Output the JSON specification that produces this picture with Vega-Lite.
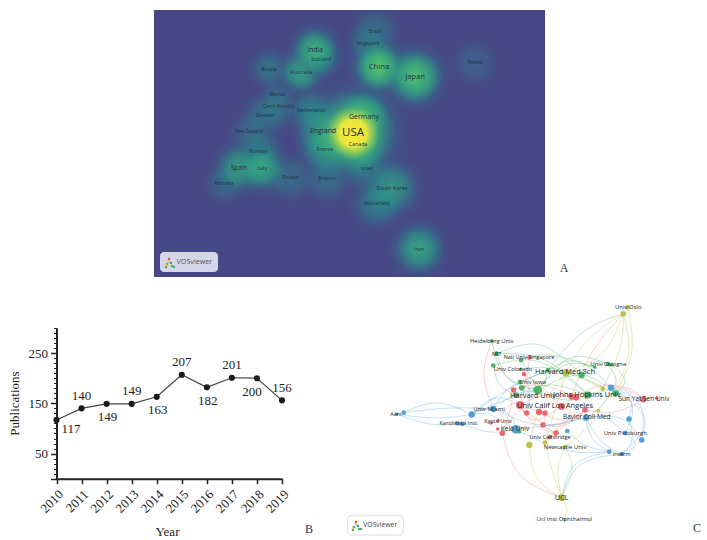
{
"$schema":"https://vega.github.io/schema/vega-lite/v6.json",
"width":707,"height":540,"padding":0,"autosize":{"type":"none"},"background":"white",
"config":{"view":{"stroke":null},"text":{"font":"Open Sans"}},
"datasets":{
"heatBox":[{"x":0,"x2":391,"y":0,"y2":267}],
"heatMask":[{"x":-5,"x2":396,"y":267,"y2":282},{"x":-5,"x2":396,"y":-10,"y2":0}],
"countries":[
{"name":"USA","x":199,"y":123,"w":100,"heat":100,"reach":72},
{"name":"Germany","x":210,"y":107,"w":35,"heat":65,"reach":42},
{"name":"Canada","x":204,"y":134,"w":10,"heat":60,"reach":42},
{"name":"England","x":169,"y":121,"w":35,"heat":55,"reach":40},
{"name":"Netherlands","x":157,"y":101,"w":5,"heat":40,"reach":34},
{"name":"France","x":171,"y":139,"w":10,"heat":50,"reach":38},
{"name":"Sweden","x":111,"y":105,"w":6,"heat":32,"reach":34},
{"name":"Czech Republic","x":125,"y":97,"w":0,"heat":22,"reach":30},
{"name":"Mexico","x":123,"y":85,"w":1,"heat":16,"reach":25},
{"name":"New Zealand","x":95,"y":122,"w":1,"heat":20,"reach":30},
{"name":"Russia","x":115,"y":59,"w":8,"heat":32,"reach":30},
{"name":"Australia","x":147,"y":62,"w":14,"heat":55,"reach":34},
{"name":"India","x":161,"y":40,"w":30,"heat":68,"reach":36},
{"name":"Scotland","x":167,"y":49,"w":6,"heat":40,"reach":30},
{"name":"Brazil","x":221,"y":22,"w":3,"heat":28,"reach":36},
{"name":"Singapore","x":214,"y":34,"w":3,"heat":32,"reach":30},
{"name":"China","x":225,"y":57,"w":45,"heat":88,"reach":42},
{"name":"Japan","x":261,"y":67,"w":42,"heat":80,"reach":46},
{"name":"Poland","x":321,"y":53,"w":1,"heat":18,"reach":36},
{"name":"Norway","x":104,"y":141,"w":8,"heat":42,"reach":36},
{"name":"Spain","x":85,"y":158,"w":25,"heat":55,"reach":36},
{"name":"Italy","x":108,"y":158,"w":8,"heat":58,"reach":36},
{"name":"Romania","x":70,"y":174,"w":1,"heat":22,"reach":30},
{"name":"Finland","x":136,"y":168,"w":1,"heat":26,"reach":36},
{"name":"Belgium","x":173,"y":169,"w":2,"heat":26,"reach":36},
{"name":"Israel","x":213,"y":159,"w":5,"heat":32,"reach":34},
{"name":"South Korea","x":238,"y":178,"w":12,"heat":50,"reach":42},
{"name":"Switzerland","x":223,"y":194,"w":3,"heat":38,"reach":38},
{"name":"Iran","x":265,"y":239,"w":8,"heat":55,"reach":40}
],
"logoBoxes":[{"panel":"A","x":6,"x2":64,"y":242,"y2":262}],
"iconA":[{"t":"red","x":15,"y":249},{"t":"yellow","x":15,"y":251.5},{"t":"blue","x":13,"y":254},{"t":"green","x":12,"y":257},{"t":"yellow","x":12,"y":255},{"t":"blue","x":17,"y":253},{"t":"green","x":18,"y":256},{"t":"green","x":20,"y":257}],
"iconC":[{"t":"red","x":16,"y":222},{"t":"yellow","x":16,"y":224.5},{"t":"blue","x":14,"y":227},{"t":"green","x":13,"y":230},{"t":"yellow","x":13,"y":228},{"t":"blue","x":18,"y":226},{"t":"green","x":19,"y":229},{"t":"green","x":21,"y":229}],
"pubs":[
{"year":2010,"n":117,"side":"belowRight"},
{"year":2011,"n":140,"side":"above"},
{"year":2012,"n":149,"side":"below"},
{"year":2013,"n":149,"side":"above"},
{"year":2014,"n":163,"side":"below"},
{"year":2015,"n":207,"side":"above"},
{"year":2016,"n":182,"side":"below"},
{"year":2017,"n":201,"side":"above"},
{"year":2018,"n":200,"side":"belowLeft"},
{"year":2019,"n":156,"side":"above"}
],
"nodes":[
{"c":"red","x":189.5,"y":57.5,"w":3},{"c":"red","x":184,"y":74,"w":3},{"c":"red","x":173.5,"y":90,"w":4},{"c":"red","x":180,"y":105,"w":8},{"c":"red","x":186.5,"y":113,"w":4},{"c":"red","x":199,"y":112,"w":5},{"c":"red","x":205,"y":113,"w":4},{"c":"red","x":221.5,"y":106.5,"w":6},{"c":"red","x":231.5,"y":96.5,"w":5},{"c":"red","x":236,"y":97.5,"w":5},{"c":"red","x":245,"y":110,"w":4},{"c":"red","x":203,"y":125,"w":4},{"c":"red","x":216,"y":133,"w":4},{"c":"red","x":210,"y":137,"w":3},{"c":"red","x":158,"y":120.7,"w":2},{"c":"red","x":151,"y":123,"w":2},{"c":"red","x":157.7,"y":129,"w":2},{"c":"red","x":162.3,"y":133.3,"w":4},{"c":"red","x":303.3,"y":99.3,"w":5},{"c":"red","x":316.7,"y":98.3,"w":2},
{"c":"green","x":151.7,"y":40.7,"w":2},{"c":"green","x":156.7,"y":53.7,"w":3},{"c":"green","x":153.3,"y":65.5,"w":3},{"c":"green","x":181,"y":60,"w":3},{"c":"green","x":180.7,"y":69.3,"w":2},{"c":"green","x":180,"y":82,"w":3},{"c":"green","x":197.7,"y":90,"w":9},{"c":"green","x":181.7,"y":88,"w":4},{"c":"green","x":176,"y":95,"w":4},{"c":"green","x":208,"y":70,"w":3},{"c":"green","x":241.7,"y":75,"w":5},{"c":"green","x":254.7,"y":67.3,"w":2},{"c":"green","x":268,"y":64,"w":3},{"c":"green","x":271.7,"y":65,"w":2},{"c":"green","x":275.7,"y":93.3,"w":5},{"c":"green","x":247.7,"y":95,"w":6},{"c":"green","x":179.3,"y":132,"w":2},
{"c":"blue","x":153.3,"y":109,"w":5},{"c":"blue","x":131.7,"y":114.5,"w":5},{"c":"blue","x":117.3,"y":123.3,"w":3},{"c":"blue","x":122.3,"y":124,"w":3},{"c":"blue","x":56.7,"y":114,"w":2},{"c":"blue","x":63.7,"y":112.7,"w":3},{"c":"blue","x":175.7,"y":129.3,"w":9},{"c":"blue","x":271,"y":87.7,"w":5},{"c":"blue","x":246,"y":117.7,"w":5},{"c":"blue","x":289,"y":119,"w":4},{"c":"blue","x":285.3,"y":133,"w":3},{"c":"blue","x":301.7,"y":140,"w":4},{"c":"blue","x":269.3,"y":151.7,"w":3},{"c":"blue","x":281.7,"y":154,"w":3},{"c":"blue","x":227.3,"y":131,"w":3},
{"c":"olive","x":287.7,"y":7.3,"w":3},{"c":"olive","x":283.3,"y":13.7,"w":4},{"c":"olive","x":226,"y":72.7,"w":7},{"c":"olive","x":262.7,"y":88.7,"w":3},{"c":"olive","x":258.3,"y":110.7,"w":2},{"c":"olive","x":205,"y":142.7,"w":3},{"c":"olive","x":189.3,"y":145,"w":5},{"c":"olive","x":225,"y":147,"w":3},{"c":"olive","x":221.7,"y":197.7,"w":6},{"c":"olive","x":224.3,"y":219.3,"w":2}
],
"netLabels":[
{"name":"Univ Oslo","x":288.3,"y":7.3,"w":6},
{"name":"Heidelberg Univ","x":151.7,"y":40.7,"w":5.8},
{"name":"MIT","x":156.7,"y":53.7,"w":5.5},
{"name":"Natl Univ Singapore","x":189,"y":57,"w":5.5},
{"name":"Harvard Med Sch","x":225,"y":72,"w":7.5},
{"name":"Univ Cologne","x":268.3,"y":63.7,"w":5.8},
{"name":"Univ Colorado","x":173,"y":68.7,"w":5.8},
{"name":"Univ Iowa","x":192.7,"y":82,"w":5.8},
{"name":"Harvard Univ","x":193,"y":95.7,"w":7.5},
{"name":"Johns Hopkins Univ","x":246.7,"y":95,"w":7.5},
{"name":"Sun Yat Sen Univ","x":304,"y":99.3,"w":6.5},
{"name":"Univ Calif Los Angeles","x":215,"y":106,"w":7.5},
{"name":"Univ Miami","x":149,"y":109,"w":6},
{"name":"Kyoto Univ","x":158,"y":120.7,"w":5.5},
{"name":"Karolinska Inst","x":118.3,"y":123,"w":5.5},
{"name":"Aarc","x":56,"y":114,"w":5.5},
{"name":"Keio Univ","x":175,"y":128.7,"w":6.5},
{"name":"Baylor Coll Med","x":246.7,"y":117,"w":6.5},
{"name":"Univ Pittsburgh","x":285.3,"y":133,"w":6},
{"name":"Inserm","x":281.7,"y":154,"w":5.5},
{"name":"Univ Cambridge","x":210,"y":137,"w":5.5},
{"name":"Newcastle Univ","x":225,"y":147,"w":6},
{"name":"UCL","x":221.7,"y":197.7,"w":7},
{"name":"Ucl Inst Ophthalmol","x":224.3,"y":219.3,"w":6}
],
"tags":[{"tag":"A","x":224,"y":-32.5},{"tag":"B","x":-31,"y":228.7},{"tag":"C","x":357,"y":228}],
"netLogo":[{"x":7.3,"x2":63.3,"y":215.7,"y2":235}],
"edges":[
{"e":1,"c":"olive","s":0,"x":283.3,"y":13.7},{"e":1,"c":"olive","s":1,"x":248,"y":40},{"e":1,"c":"olive","s":2,"x":226,"y":72.7},
{"e":2,"c":"olive","s":0,"x":283.3,"y":13.7},{"e":2,"c":"olive","s":1,"x":263,"y":52},{"e":2,"c":"olive","s":2,"x":226,"y":72.7},
{"e":3,"c":"olive","s":0,"x":287.7,"y":7.3},{"e":3,"c":"olive","s":1,"x":291.7,"y":52},{"e":3,"c":"olive","s":2,"x":275.7,"y":93.3},
{"e":4,"c":"olive","s":0,"x":283.3,"y":13.7},{"e":4,"c":"olive","s":1,"x":280,"y":48},{"e":4,"c":"olive","s":2,"x":262.7,"y":88.7},
{"e":5,"c":"olive","s":0,"x":283.3,"y":13.7},{"e":5,"c":"olive","s":1,"x":287,"y":62},{"e":5,"c":"olive","s":2,"x":258.3,"y":110.7},
{"e":6,"c":"olive","s":0,"x":221.7,"y":197.7},{"e":6,"c":"olive","s":1,"x":232,"y":170},{"e":6,"c":"olive","s":2,"x":225,"y":147},
{"e":7,"c":"olive","s":0,"x":221.7,"y":197.7},{"e":7,"c":"olive","s":1,"x":218,"y":170},{"e":7,"c":"olive","s":2,"x":225,"y":147},
{"e":8,"c":"olive","s":0,"x":221.7,"y":197.7},{"e":8,"c":"olive","s":1,"x":212,"y":170},{"e":8,"c":"olive","s":2,"x":205,"y":142.7},
{"e":9,"c":"olive","s":0,"x":221.7,"y":197.7},{"e":9,"c":"olive","s":1,"x":197,"y":178},{"e":9,"c":"olive","s":2,"x":189.3,"y":145},
{"e":10,"c":"olive","s":0,"x":221.7,"y":197.7},{"e":10,"c":"olive","s":1,"x":227,"y":208},{"e":10,"c":"olive","s":2,"x":224.3,"y":219.3},
{"e":11,"c":"olive","s":0,"x":226,"y":72.7},{"e":11,"c":"olive","s":1,"x":215,"y":110},{"e":11,"c":"olive","s":2,"x":205,"y":142.7},
{"e":12,"c":"olive","s":0,"x":226,"y":72.7},{"e":12,"c":"olive","s":1,"x":200,"y":110},{"e":12,"c":"olive","s":2,"x":189.3,"y":145},
{"e":13,"c":"olive","s":0,"x":225,"y":147},{"e":13,"c":"olive","s":1,"x":250,"y":125},{"e":13,"c":"olive","s":2,"x":258.3,"y":110.7},
{"e":14,"c":"olive","s":0,"x":205,"y":142.7},{"e":14,"c":"olive","s":1,"x":235,"y":110},{"e":14,"c":"olive","s":2,"x":262.7,"y":88.7},
{"e":15,"c":"olive","s":0,"x":226,"y":72.7},{"e":15,"c":"olive","s":1,"x":245,"y":80},{"e":15,"c":"olive","s":2,"x":262.7,"y":88.7},
{"e":16,"c":"green","s":0,"x":283.3,"y":13.7},{"e":16,"c":"green","s":1,"x":243,"y":32},{"e":16,"c":"green","s":2,"x":208,"y":70},
{"e":17,"c":"green","s":0,"x":151.7,"y":40.7},{"e":17,"c":"green","s":1,"x":165,"y":75},{"e":17,"c":"green","s":2,"x":197.7,"y":90},
{"e":18,"c":"green","s":0,"x":156.7,"y":53.7},{"e":18,"c":"green","s":1,"x":200,"y":45},{"e":18,"c":"green","s":2,"x":241.7,"y":75},
{"e":19,"c":"green","s":0,"x":156.7,"y":53.7},{"e":19,"c":"green","s":1,"x":170,"y":80},{"e":19,"c":"green","s":2,"x":197.7,"y":90},
{"e":20,"c":"green","s":0,"x":156.7,"y":53.7},{"e":20,"c":"green","s":1,"x":205,"y":60},{"e":20,"c":"green","s":2,"x":247.7,"y":95},
{"e":21,"c":"green","s":0,"x":153.3,"y":65.5},{"e":21,"c":"green","s":1,"x":160,"y":85},{"e":21,"c":"green","s":2,"x":176,"y":95},
{"e":22,"c":"green","s":0,"x":153.3,"y":65.5},{"e":22,"c":"green","s":1,"x":200,"y":62},{"e":22,"c":"green","s":2,"x":247.7,"y":95},
{"e":23,"c":"green","s":0,"x":268,"y":64},{"e":23,"c":"green","s":1,"x":230,"y":58},{"e":23,"c":"green","s":2,"x":197.7,"y":90},
{"e":24,"c":"green","s":0,"x":268,"y":64},{"e":24,"c":"green","s":1,"x":255,"y":62},{"e":24,"c":"green","s":2,"x":241.7,"y":75},
{"e":25,"c":"green","s":0,"x":254.7,"y":67.3},{"e":25,"c":"green","s":1,"x":225,"y":65},{"e":25,"c":"green","s":2,"x":197.7,"y":90},
{"e":26,"c":"green","s":0,"x":275.7,"y":93.3},{"e":26,"c":"green","s":1,"x":240,"y":75},{"e":26,"c":"green","s":2,"x":197.7,"y":90},
{"e":27,"c":"green","s":0,"x":275.7,"y":93.3},{"e":27,"c":"green","s":1,"x":240,"y":62},{"e":27,"c":"green","s":2,"x":208,"y":70},
{"e":28,"c":"green","s":0,"x":271.7,"y":65},{"e":28,"c":"green","s":1,"x":285,"y":80},{"e":28,"c":"green","s":2,"x":275.7,"y":93.3},
{"e":29,"c":"green","s":0,"x":268,"y":64},{"e":29,"c":"green","s":1,"x":275,"y":85},{"e":29,"c":"green","s":2,"x":247.7,"y":95},
{"e":30,"c":"green","s":0,"x":181,"y":60},{"e":30,"c":"green","s":1,"x":210,"y":55},{"e":30,"c":"green","s":2,"x":254.7,"y":67.3},
{"e":31,"c":"green","s":0,"x":180.7,"y":69.3},{"e":31,"c":"green","s":1,"x":220,"y":70},{"e":31,"c":"green","s":2,"x":275.7,"y":93.3},
{"e":32,"c":"green","s":0,"x":180,"y":82},{"e":32,"c":"green","s":1,"x":210,"y":72},{"e":32,"c":"green","s":2,"x":241.7,"y":75},
{"e":33,"c":"green","s":0,"x":181,"y":60},{"e":33,"c":"green","s":1,"x":190,"y":75},{"e":33,"c":"green","s":2,"x":197.7,"y":90},
{"e":34,"c":"green","s":0,"x":197.7,"y":90},{"e":34,"c":"green","s":1,"x":225,"y":100},{"e":34,"c":"green","s":2,"x":247.7,"y":95},
{"e":35,"c":"green","s":0,"x":176,"y":95},{"e":35,"c":"green","s":1,"x":210,"y":85},{"e":35,"c":"green","s":2,"x":247.7,"y":95},
{"e":36,"c":"green","s":0,"x":208,"y":70},{"e":36,"c":"green","s":1,"x":205,"y":80},{"e":36,"c":"green","s":2,"x":197.7,"y":90},
{"e":37,"c":"red","s":0,"x":151.7,"y":40.7},{"e":37,"c":"red","s":1,"x":144,"y":75},{"e":37,"c":"red","s":2,"x":153.3,"y":109},
{"e":38,"c":"red","s":0,"x":283.3,"y":13.7},{"e":38,"c":"red","s":1,"x":252,"y":52},{"e":38,"c":"red","s":2,"x":231.5,"y":96.5},
{"e":39,"c":"red","s":0,"x":303.3,"y":99.3},{"e":39,"c":"red","s":1,"x":288,"y":88},{"e":39,"c":"red","s":2,"x":271,"y":87.7},
{"e":40,"c":"red","s":0,"x":303.3,"y":99.3},{"e":40,"c":"red","s":1,"x":275,"y":112},{"e":40,"c":"red","s":2,"x":245,"y":110},
{"e":41,"c":"red","s":0,"x":303.3,"y":99.3},{"e":41,"c":"red","s":1,"x":265,"y":85},{"e":41,"c":"red","s":2,"x":221.5,"y":106.5},
{"e":42,"c":"red","s":0,"x":316.7,"y":98.3},{"e":42,"c":"red","s":1,"x":310,"y":97},{"e":42,"c":"red","s":2,"x":303.3,"y":99.3},
{"e":43,"c":"red","s":0,"x":162.3,"y":133.3},{"e":43,"c":"red","s":1,"x":180,"y":175},{"e":43,"c":"red","s":2,"x":221.7,"y":197.7},
{"e":44,"c":"red","s":0,"x":180,"y":105},{"e":44,"c":"red","s":1,"x":205,"y":95},{"e":44,"c":"red","s":2,"x":231.5,"y":96.5},
{"e":45,"c":"red","s":0,"x":180,"y":105},{"e":45,"c":"red","s":1,"x":195,"y":120},{"e":45,"c":"red","s":2,"x":221.5,"y":106.5},
{"e":46,"c":"red","s":0,"x":173.5,"y":90},{"e":46,"c":"red","s":1,"x":200,"y":85},{"e":46,"c":"red","s":2,"x":236,"y":97.5},
{"e":47,"c":"red","s":0,"x":184,"y":74},{"e":47,"c":"red","s":1,"x":190,"y":95},{"e":47,"c":"red","s":2,"x":186.5,"y":113},
{"e":48,"c":"red","s":0,"x":184,"y":74},{"e":48,"c":"red","s":1,"x":205,"y":90},{"e":48,"c":"red","s":2,"x":221.5,"y":106.5},
{"e":49,"c":"red","s":0,"x":189.5,"y":57.5},{"e":49,"c":"red","s":1,"x":185,"y":85},{"e":49,"c":"red","s":2,"x":180,"y":105},
{"e":50,"c":"red","s":0,"x":162.3,"y":133.3},{"e":50,"c":"red","s":1,"x":180,"y":110},{"e":50,"c":"red","s":2,"x":199,"y":112},
{"e":51,"c":"red","s":0,"x":186.5,"y":113},{"e":51,"c":"red","s":1,"x":215,"y":125},{"e":51,"c":"red","s":2,"x":245,"y":110},
{"e":52,"c":"red","s":0,"x":199,"y":112},{"e":52,"c":"red","s":1,"x":225,"y":120},{"e":52,"c":"red","s":2,"x":245,"y":110},
{"e":53,"c":"red","s":0,"x":205,"y":113},{"e":53,"c":"red","s":1,"x":205,"y":120},{"e":53,"c":"red","s":2,"x":203,"y":125},
{"e":54,"c":"red","s":0,"x":203,"y":125},{"e":54,"c":"red","s":1,"x":210,"y":130},{"e":54,"c":"red","s":2,"x":216,"y":133},
{"e":55,"c":"red","s":0,"x":180,"y":105},{"e":55,"c":"red","s":1,"x":195,"y":125},{"e":55,"c":"red","s":2,"x":216,"y":133},
{"e":56,"c":"red","s":0,"x":221.5,"y":106.5},{"e":56,"c":"red","s":1,"x":230,"y":115},{"e":56,"c":"red","s":2,"x":216,"y":133},
{"e":57,"c":"red","s":0,"x":173.5,"y":90},{"e":57,"c":"red","s":1,"x":170,"y":110},{"e":57,"c":"red","s":2,"x":162.3,"y":133.3},
{"e":58,"c":"red","s":0,"x":158,"y":120.7},{"e":58,"c":"red","s":1,"x":170,"y":105},{"e":58,"c":"red","s":2,"x":180,"y":105},
{"e":59,"c":"red","s":0,"x":199,"y":112},{"e":59,"c":"red","s":1,"x":218,"y":98},{"e":59,"c":"red","s":2,"x":231.5,"y":96.5},
{"e":60,"c":"red","s":0,"x":203,"y":125},{"e":60,"c":"red","s":1,"x":225,"y":125},{"e":60,"c":"red","s":2,"x":245,"y":110},
{"e":61,"c":"blue","s":0,"x":63.7,"y":112.7},{"e":61,"c":"blue","s":1,"x":97,"y":103},{"e":61,"c":"blue","s":2,"x":131.7,"y":114.5},
{"e":62,"c":"blue","s":0,"x":56.7,"y":114},{"e":62,"c":"blue","s":1,"x":95,"y":118},{"e":62,"c":"blue","s":2,"x":131.7,"y":114.5},
{"e":63,"c":"blue","s":0,"x":56.7,"y":114},{"e":63,"c":"blue","s":1,"x":90,"y":124},{"e":63,"c":"blue","s":2,"x":122.3,"y":124},
{"e":64,"c":"blue","s":0,"x":63.7,"y":112.7},{"e":64,"c":"blue","s":1,"x":110,"y":108},{"e":64,"c":"blue","s":2,"x":153.3,"y":109},
{"e":65,"c":"blue","s":0,"x":122.3,"y":124},{"e":65,"c":"blue","s":1,"x":150,"y":132},{"e":65,"c":"blue","s":2,"x":175.7,"y":129.3},
{"e":66,"c":"blue","s":0,"x":131.7,"y":114.5},{"e":66,"c":"blue","s":1,"x":150,"y":115},{"e":66,"c":"blue","s":2,"x":175.7,"y":129.3},
{"e":67,"c":"blue","s":0,"x":122.3,"y":124},{"e":67,"c":"blue","s":1,"x":135,"y":112},{"e":67,"c":"blue","s":2,"x":153.3,"y":109},
{"e":68,"c":"blue","s":0,"x":153.3,"y":109},{"e":68,"c":"blue","s":1,"x":175,"y":95},{"e":68,"c":"blue","s":2,"x":197.7,"y":90},
{"e":69,"c":"blue","s":0,"x":153.3,"y":109},{"e":69,"c":"blue","s":1,"x":165,"y":92},{"e":69,"c":"blue","s":2,"x":180,"y":82},
{"e":70,"c":"blue","s":0,"x":131.7,"y":114.5},{"e":70,"c":"blue","s":1,"x":170,"y":88},{"e":70,"c":"blue","s":2,"x":208,"y":70},
{"e":71,"c":"blue","s":0,"x":131.7,"y":114.5},{"e":71,"c":"blue","s":1,"x":155,"y":98},{"e":71,"c":"blue","s":2,"x":180,"y":105},
{"e":72,"c":"blue","s":0,"x":131.7,"y":114.5},{"e":72,"c":"blue","s":1,"x":165,"y":100},{"e":72,"c":"blue","s":2,"x":197.7,"y":90},
{"e":73,"c":"blue","s":0,"x":246,"y":117.7},{"e":73,"c":"blue","s":1,"x":252,"y":138},{"e":73,"c":"blue","s":2,"x":269.3,"y":151.7},
{"e":74,"c":"blue","s":0,"x":246,"y":117.7},{"e":74,"c":"blue","s":1,"x":262,"y":142},{"e":74,"c":"blue","s":2,"x":281.7,"y":154},
{"e":75,"c":"blue","s":0,"x":289,"y":119},{"e":75,"c":"blue","s":1,"x":292,"y":140},{"e":75,"c":"blue","s":2,"x":281.7,"y":154},
{"e":76,"c":"blue","s":0,"x":271,"y":87.7},{"e":76,"c":"blue","s":1,"x":290,"y":95},{"e":76,"c":"blue","s":2,"x":289,"y":119},
{"e":77,"c":"blue","s":0,"x":271,"y":87.7},{"e":77,"c":"blue","s":1,"x":292,"y":105},{"e":77,"c":"blue","s":2,"x":285.3,"y":133},
{"e":78,"c":"blue","s":0,"x":271,"y":87.7},{"e":78,"c":"blue","s":1,"x":262,"y":105},{"e":78,"c":"blue","s":2,"x":246,"y":117.7},
{"e":79,"c":"blue","s":0,"x":285.3,"y":133},{"e":79,"c":"blue","s":1,"x":265,"y":118},{"e":79,"c":"blue","s":2,"x":246,"y":117.7},
{"e":80,"c":"blue","s":0,"x":301.7,"y":140},{"e":80,"c":"blue","s":1,"x":280,"y":118},{"e":80,"c":"blue","s":2,"x":246,"y":117.7},
{"e":81,"c":"blue","s":0,"x":271,"y":87.7},{"e":81,"c":"blue","s":1,"x":300,"y":105},{"e":81,"c":"blue","s":2,"x":301.7,"y":140},
{"e":82,"c":"blue","s":0,"x":269.3,"y":151.7},{"e":82,"c":"blue","s":1,"x":225,"y":150},{"e":82,"c":"blue","s":2,"x":175.7,"y":129.3},
{"e":83,"c":"blue","s":0,"x":281.7,"y":154},{"e":83,"c":"blue","s":1,"x":295,"y":145},{"e":83,"c":"blue","s":2,"x":285.3,"y":133},
{"e":84,"c":"blue","s":0,"x":281.7,"y":154},{"e":84,"c":"blue","s":1,"x":305,"y":120},{"e":84,"c":"blue","s":2,"x":271,"y":87.7},
{"e":85,"c":"blue","s":0,"x":227.3,"y":131},{"e":85,"c":"blue","s":1,"x":245,"y":145},{"e":85,"c":"blue","s":2,"x":269.3,"y":151.7},
{"e":86,"c":"blue","s":0,"x":221.7,"y":197.7},{"e":86,"c":"blue","s":1,"x":235,"y":165},{"e":86,"c":"blue","s":2,"x":269.3,"y":151.7},
{"e":87,"c":"blue","s":0,"x":221.7,"y":197.7},{"e":87,"c":"blue","s":1,"x":240,"y":165},{"e":87,"c":"blue","s":2,"x":281.7,"y":154},
{"e":88,"c":"blue","s":0,"x":153.3,"y":109},{"e":88,"c":"blue","s":1,"x":200,"y":125},{"e":88,"c":"blue","s":2,"x":246,"y":117.7},
{"e":89,"c":"blue","s":0,"x":175.7,"y":129.3},{"e":89,"c":"blue","s":1,"x":210,"y":125},{"e":89,"c":"blue","s":2,"x":246,"y":117.7},
{"e":90,"c":"blue","s":0,"x":153.3,"y":109},{"e":90,"c":"blue","s":1,"x":170,"y":115},{"e":90,"c":"blue","s":2,"x":175.7,"y":129.3}
]
},
"layer":[
{"data":{"name":"heatBox"},"mark":{"type":"rect","color":"#474986"},
 "encoding":{"x":{"field":"x","type":"quantitative","scale":{"domain":[0,391],"range":[154,545]},"axis":null},"x2":{"field":"x2"},"y":{"field":"y","type":"quantitative","scale":{"domain":[0,267],"range":[10,277]},"axis":null},"y2":{"field":"y2"}}},
{"data":{"name":"countries"},"mark":{"type":"point","shape":"circle","filled":true,"stroke":null,"color":{"gradient":"radial","x1":0.5,"y1":0.5,"x2":0.5,"y2":0.5,"r1":0,"r2":0.5,"stops":[{"offset":0,"color":"rgba(38,155,140,1)"},{"offset":0.4,"color":"rgba(40,145,138,0.75)"},{"offset":0.72,"color":"rgba(50,108,135,0.28)"},{"offset":1,"color":"rgba(71,73,134,0)"}]}},
 "encoding":{"x":{"field":"x","type":"quantitative","scale":{"domain":[0,391],"range":[154,545]},"axis":null},"y":{"field":"y","type":"quantitative","scale":{"domain":[0,267],"range":[10,277]},"axis":null},
 "size":{"field":"reach","type":"quantitative","scale":{"type":"pow","exponent":2,"domain":[0,100],"range":[0,31416]},"legend":null},
 "opacity":{"field":"heat","type":"quantitative","scale":{"domain":[0,60],"range":[0,1],"clamp":true},"legend":null}}},
{"data":{"name":"countries"},"transform":[{"filter":"datum.heat>=45"}],"mark":{"type":"point","shape":"circle","filled":true,"stroke":null,"color":{"gradient":"radial","x1":0.5,"y1":0.5,"x2":0.5,"y2":0.5,"r1":0,"r2":0.5,"stops":[{"offset":0,"color":"rgba(95,208,100,1)"},{"offset":0.5,"color":"rgba(70,185,115,0.7)"},{"offset":1,"color":"rgba(40,150,135,0)"}]}},
 "encoding":{"x":{"field":"x","type":"quantitative","scale":{"domain":[0,391],"range":[154,545]},"axis":null},"y":{"field":"y","type":"quantitative","scale":{"domain":[0,267],"range":[10,277]},"axis":null},
 "size":{"field":"reach","type":"quantitative","scale":{"type":"pow","exponent":2,"domain":[0,100],"range":[0,14000]},"legend":null},
 "opacity":{"field":"heat","type":"quantitative","scale":{"domain":[40,95],"range":[0,1],"clamp":true},"legend":null}}},
{"data":{"name":"countries"},"transform":[{"filter":"datum.heat==100"}],"mark":{"type":"point","shape":"circle","filled":true,"stroke":null,"opacity":1,"color":{"gradient":"radial","x1":0.5,"y1":0.5,"x2":0.5,"y2":0.5,"r1":0,"r2":0.5,"stops":[{"offset":0,"color":"rgba(250,235,50,1)"},{"offset":0.5,"color":"rgba(240,232,60,0.95)"},{"offset":1,"color":"rgba(130,205,90,0)"}]}},
 "encoding":{"x":{"field":"x","type":"quantitative","scale":{"domain":[0,391],"range":[154,545]},"axis":null},"y":{"field":"y","type":"quantitative","scale":{"domain":[0,267],"range":[10,277]},"axis":null},
 "size":{"field":"heat","type":"quantitative","scale":{"domain":[0,100],"range":[0,3000]},"legend":null}}},
{"data":{"name":"heatMask"},"mark":{"type":"rect","color":"white"},
 "encoding":{"x":{"field":"x","type":"quantitative","scale":{"domain":[0,391],"range":[154,545]},"axis":null},"x2":{"field":"x2"},"y":{"field":"y","type":"quantitative","scale":{"domain":[0,267],"range":[10,277]},"axis":null},"y2":{"field":"y2"}}},
{"data":{"name":"countries"},"mark":{"type":"text","font":"Open Sans","color":"#1f2d4a","align":"center","baseline":"middle"},
 "encoding":{"x":{"field":"x","type":"quantitative","scale":{"domain":[0,391],"range":[154,545]},"axis":null},"y":{"field":"y","type":"quantitative","scale":{"domain":[0,267],"range":[10,277]},"axis":null},"text":{"field":"name"},
 "size":{"field":"w","type":"quantitative","scale":{"domain":[0,100],"range":[4.6,11.5]},"legend":null}}},
{"data":{"name":"logoBoxes"},"mark":{"type":"rect","color":"#d5d6e7","cornerRadius":4},
 "encoding":{"x":{"field":"x","type":"quantitative","scale":{"domain":[0,391],"range":[154,545]},"axis":null},"x2":{"field":"x2"},"y":{"field":"y","type":"quantitative","scale":{"domain":[0,267],"range":[10,277]},"axis":null},"y2":{"field":"y2"}}},
{"data":{"name":"iconA"},"mark":{"type":"circle","opacity":1},
 "encoding":{"x":{"field":"x","type":"quantitative","scale":{"domain":[0,391],"range":[154,545]},"axis":null},"y":{"field":"y","type":"quantitative","scale":{"domain":[0,267],"range":[10,277]},"axis":null},"size":{"value":7},
 "color":{"field":"t","type":"nominal","scale":{"domain":["red","yellow","green","blue"],"range":["#d9534f","#d8cf3c","#4fb26a","#4a8fd0"]},"legend":null}}},
{"data":{"values":[{"label":"VOSviewer","x":22.5,"y":252}]},"mark":{"type":"text","font":"Open Sans","fontSize":7.2,"color":"#555566","align":"left","baseline":"middle"},
 "encoding":{"x":{"field":"x","type":"quantitative","scale":{"domain":[0,391],"range":[154,545]},"axis":null},"y":{"field":"y","type":"quantitative","scale":{"domain":[0,267],"range":[10,277]},"axis":null},"text":{"field":"label"}}},

{"data":{"name":"pubs"},"mark":{"type":"line","color":"#444444","strokeWidth":1.2},
 "encoding":{"x":{"field":"year","type":"quantitative","scale":{"domain":[2010,2019],"range":[56.5,282]},
   "axis":{"orient":"bottom","offset":-61.3,"values":[2010,2011,2012,2013,2014,2015,2016,2017,2018,2019],"format":"d","grid":false,"domainColor":"#222222","domainWidth":2,"tickColor":"#222222","tickWidth":1.5,"tickSize":5,"labelFont":"Liberation Serif","labelFontSize":13,"labelColor":"#222222","labelAngle":-45,"labelAlign":"right","labelBaseline":"top","labelPadding":4,"labelFlush":false,"labelOverlap":false,"title":"Year","titleFont":"Liberation Serif","titleFontSize":13,"titleFontWeight":"normal","titleColor":"#222222","titleX":167,"titleY":47}},
  "y":{"field":"n","type":"quantitative","scale":{"domain":[0,300],"range":[478.7,328]},
   "axis":{"orient":"left","offset":-56.5,"values":[0,50,150,250],"labelExpr":"datum.value==0?'':datum.label","grid":false,"domainColor":"#222222","domainWidth":2,"tickColor":"#222222","tickWidth":1.5,"tickSize":6,"labelFont":"Liberation Serif","labelFontSize":13,"labelColor":"#222222","labelPadding":3,"title":"Publications","titleFont":"Liberation Serif","titleFontSize":13,"titleFontWeight":"normal","titleColor":"#222222","titleX":-35,"titleY":403}}}},
{"data":{"name":"pubs"},"mark":{"type":"circle","color":"#1a1a1a","opacity":1,"size":38},
 "encoding":{"x":{"field":"year","type":"quantitative","scale":{"domain":[2010,2019],"range":[56.5,282]},"axis":null},
  "y":{"field":"n","type":"quantitative","scale":{"domain":[0,300],"range":[478.7,328]},
   "axis":{"orient":"left","offset":-56.5,"values":[10,20,30,40,60,70,80,90,100,110,120,130,140,160,170,180,190,200,210,220,230,240,260,270,280,290,300],"grid":false,"domain":false,"labels":false,"title":null,"tickColor":"#222222","tickWidth":1,"tickSize":3}}}},
{"data":{"name":"pubs"},"transform":[{"filter":"datum.side=='above'"}],"mark":{"type":"text","font":"Liberation Serif","fontSize":13,"color":"#222222","dy":-12.5},
 "encoding":{"x":{"field":"year","type":"quantitative","scale":{"domain":[2010,2019],"range":[56.5,282]},"axis":null},"y":{"field":"n","type":"quantitative","scale":{"domain":[0,300],"range":[478.7,328]},"axis":null},"text":{"field":"n"}}},
{"data":{"name":"pubs"},"transform":[{"filter":"datum.side=='below'"}],"mark":{"type":"text","font":"Liberation Serif","fontSize":13,"color":"#222222","dy":13.5,"dx":1},
 "encoding":{"x":{"field":"year","type":"quantitative","scale":{"domain":[2010,2019],"range":[56.5,282]},"axis":null},"y":{"field":"n","type":"quantitative","scale":{"domain":[0,300],"range":[478.7,328]},"axis":null},"text":{"field":"n"}}},
{"data":{"name":"pubs"},"transform":[{"filter":"datum.side=='belowRight'"}],"mark":{"type":"text","font":"Liberation Serif","fontSize":13,"color":"#222222","dy":9,"dx":14.5},
 "encoding":{"x":{"field":"year","type":"quantitative","scale":{"domain":[2010,2019],"range":[56.5,282]},"axis":null},"y":{"field":"n","type":"quantitative","scale":{"domain":[0,300],"range":[478.7,328]},"axis":null},"text":{"field":"n"}}},
{"data":{"name":"pubs"},"transform":[{"filter":"datum.side=='belowLeft'"}],"mark":{"type":"text","font":"Liberation Serif","fontSize":13,"color":"#222222","dy":14,"dx":-5},
 "encoding":{"x":{"field":"year","type":"quantitative","scale":{"domain":[2010,2019],"range":[56.5,282]},"axis":null},"y":{"field":"n","type":"quantitative","scale":{"domain":[0,300],"range":[478.7,328]},"axis":null},"text":{"field":"n"}}},

{"data":{"name":"edges"},"mark":{"type":"line","interpolate":"natural","strokeWidth":0.8,"opacity":0.5},
 "encoding":{"x":{"field":"x","type":"quantitative","scale":{"domain":[0,360],"range":[340,700]},"axis":null},"y":{"field":"y","type":"quantitative","scale":{"domain":[0,240],"range":[300,540]},"axis":null},"detail":{"field":"e"},"order":{"field":"s"},
 "color":{"field":"c","type":"nominal","scale":{"domain":["red","green","blue","olive"],"range":["#f08a80","#62bd7c","#6cb4e4","#c4c65a"]},"legend":null}}},
{"data":{"name":"nodes"},"mark":{"type":"circle","opacity":0.95},
 "encoding":{"x":{"field":"x","type":"quantitative","scale":{"domain":[0,360],"range":[340,700]},"axis":null},"y":{"field":"y","type":"quantitative","scale":{"domain":[0,240],"range":[300,540]},"axis":null},
 "size":{"field":"w","type":"quantitative","scale":{"domain":[2,9],"range":[13,75]},"legend":null},
 "color":{"field":"c","type":"nominal","scale":{"domain":["red","green","blue","olive"],"range":["#e8606a","#3fae5f","#4b9bd4","#bcbf45"]},"legend":null}}},
{"data":{"name":"netLabels"},"mark":{"type":"text","font":"Open Sans","color":"#222222","align":"center","baseline":"middle"},
 "encoding":{"x":{"field":"x","type":"quantitative","scale":{"domain":[0,360],"range":[340,700]},"axis":null},"y":{"field":"y","type":"quantitative","scale":{"domain":[0,240],"range":[300,540]},"axis":null},"text":{"field":"name"},
 "size":{"field":"w","type":"quantitative","scale":{"domain":[5,8],"range":[5,8]},"legend":null}}},
{"data":{"name":"netLogo"},"mark":{"type":"rect","color":"white","stroke":"#dddddd","strokeWidth":1,"cornerRadius":4},
 "encoding":{"x":{"field":"x","type":"quantitative","scale":{"domain":[0,360],"range":[340,700]},"axis":null},"x2":{"field":"x2"},"y":{"field":"y","type":"quantitative","scale":{"domain":[0,240],"range":[300,540]},"axis":null},"y2":{"field":"y2"}}},
{"data":{"name":"iconC"},"mark":{"type":"circle","opacity":1},
 "encoding":{"x":{"field":"x","type":"quantitative","scale":{"domain":[0,360],"range":[340,700]},"axis":null},"y":{"field":"y","type":"quantitative","scale":{"domain":[0,240],"range":[300,540]},"axis":null},"size":{"value":7},
 "color":{"field":"t","type":"nominal","scale":{"domain":["red","yellow","green","blue"],"range":["#d9534f","#d8cf3c","#4fb26a","#4a8fd0"]},"legend":null}}},
{"data":{"values":[{"label":"VOSviewer","x":23.3,"y":225.3}]},"mark":{"type":"text","font":"Open Sans","fontSize":6.8,"color":"#444444","align":"left","baseline":"middle"},
 "encoding":{"x":{"field":"x","type":"quantitative","scale":{"domain":[0,360],"range":[340,700]},"axis":null},"y":{"field":"y","type":"quantitative","scale":{"domain":[0,240],"range":[300,540]},"axis":null},"text":{"field":"label"}}},
{"data":{"name":"tags"},"mark":{"type":"text","font":"Liberation Serif","fontSize":12,"color":"#2b3550","align":"center","baseline":"middle"},
 "encoding":{"x":{"field":"x","type":"quantitative","scale":{"domain":[0,360],"range":[340,700]},"axis":null},"y":{"field":"y","type":"quantitative","scale":{"domain":[0,240],"range":[300,540]},"axis":null},"text":{"field":"tag"}}}
],
"resolve":{"scale":{"x":"independent","y":"independent","size":"independent","color":"independent","opacity":"independent"},"axis":{"x":"independent","y":"independent"}}
}
